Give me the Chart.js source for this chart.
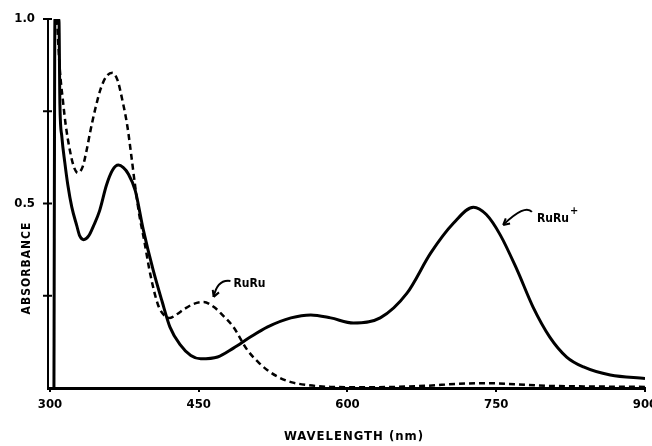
<!DOCTYPE html>
<html>
<head>
<meta charset="utf-8">
<script src="https://cdn.jsdelivr.net/npm/chart.js@4.4.1/dist/chart.umd.min.js"></script>
<style>
  html, body { margin: 0; padding: 0; background: #fff; }
  #wrap { width: 652px; height: 446px; position: relative; }
</style>
</head>
<body>
<div id="wrap"><canvas id="specChart" width="652" height="446"></canvas></div>
<script>
// RuRu+ (solid) trace
var ruruPlusNm = [304, 305, 309, 310, 312, 315, 318, 322, 327, 330, 334, 339, 344, 350, 357, 363, 369, 374, 379, 386, 394, 404, 413, 421, 431, 442, 452, 469, 485, 502, 519, 543, 563, 583, 606, 633, 660, 684, 707, 727, 740, 754, 771, 787, 804, 821, 838, 865, 900];
var ruruPlusAbs = [0, 1.0, 1.0, 0.77, 0.68, 0.61, 0.55, 0.49, 0.44, 0.412, 0.402, 0.412, 0.44, 0.48, 0.55, 0.59, 0.604, 0.597, 0.58, 0.535, 0.43, 0.32, 0.235, 0.165, 0.118, 0.088, 0.079, 0.084, 0.108, 0.138, 0.165, 0.19, 0.198, 0.19, 0.176, 0.19, 0.257, 0.366, 0.447, 0.49, 0.47, 0.415, 0.32, 0.22, 0.138, 0.084, 0.057, 0.035, 0.026];

// RuRu (dashed) trace
var ruruNm = [307, 310, 313, 316, 320, 324, 328, 333, 337, 341, 346, 351, 357, 363, 368, 373, 378, 382, 386, 390, 395, 401, 409, 416, 421, 428, 436, 445, 455, 465, 475, 485, 499, 510, 519, 530, 543, 560, 583, 620, 680, 710, 740, 770, 800, 850, 900];
var ruruAbs = [1.0, 0.86, 0.78, 0.71, 0.645, 0.6, 0.583, 0.6, 0.645, 0.7, 0.76, 0.81, 0.845, 0.854, 0.835, 0.78, 0.71, 0.63, 0.545, 0.47, 0.4, 0.31, 0.225, 0.195, 0.19, 0.2, 0.215, 0.228, 0.233, 0.22, 0.195, 0.165, 0.103, 0.07, 0.049, 0.03, 0.016, 0.008, 0.003, 0.002, 0.006, 0.011, 0.013, 0.01, 0.006, 0.004, 0.003];

var xTicks = [300, 450, 600, 750, 900];
var yTicks = [0, 0.25, 0.5, 0.75, 1.0];
var yLabels = ['', '', '0.5', '', '1.0'];

var labelFont = "'DejaVu Sans Condensed', 'DejaVu Sans', sans-serif";

function toPoints(xs, ys) {
    return xs.map(function (x, i) { return { x: x, y: ys[i] }; });
}

function drawHead(ctx, x, y, ang) {
    var s = 7;
    ctx.beginPath();
    ctx.moveTo(x, y);
    ctx.lineTo(x - s * Math.cos(ang - 0.5), y - s * Math.sin(ang - 0.5));
    ctx.moveTo(x, y);
    ctx.lineTo(x - s * Math.cos(ang + 0.5), y - s * Math.sin(ang + 0.5));
    ctx.stroke();
}

// axis titles and curve labels with their little arrows
var notesPlugin = {
    id: 'notes',
    afterDraw: function (chart) {
        var ctx = chart.ctx;
        var xs = chart.scales.x, ys = chart.scales.y;
        var px = function (v) { return xs.getPixelForValue(v); };
        var py = function (v) { return ys.getPixelForValue(v); };
        ctx.save();
        ctx.fillStyle = '#000';
        ctx.strokeStyle = '#000';

        // x title
        ctx.font = 'bold 13px ' + labelFont;
        ctx.letterSpacing = '1px';
        ctx.textAlign = 'center';
        ctx.textBaseline = 'middle';
        ctx.fillText('WAVELENGTH (nm)', 354, 437);

        // y title
        ctx.save();
        ctx.translate(27, 268);
        ctx.rotate(-Math.PI / 2);
        ctx.font = 'bold 12px ' + labelFont;
        ctx.fillText('ABSORBANCE', 0, 0);
        ctx.restore();
        ctx.letterSpacing = '0px';

        // RuRu label
        ctx.font = 'bold 12px ' + labelFont;
        ctx.textAlign = 'left';
        ctx.textBaseline = 'alphabetic';
        var tx = px(485), ty = py(0.274);
        ctx.fillText('RuRu', tx, ty);
        ctx.lineWidth = 2;
        ctx.beginPath();
        ctx.moveTo(tx - 3, ty - 6);
        ctx.quadraticCurveTo(tx - 16, ty - 8, px(465), py(0.247));
        ctx.stroke();
        drawHead(ctx, px(465), py(0.247), Math.PI * 0.62);

        // RuRu+ label
        var sx = px(791), sy = py(0.45);
        ctx.fillText('RuRu', sx, sy);
        var w = ctx.measureText('RuRu').width;
        ctx.font = 'bold 11px ' + labelFont;
        ctx.fillText('+', sx + w + 1, sy - 8);
        ctx.beginPath();
        ctx.moveTo(sx - 5, sy - 10);
        ctx.quadraticCurveTo(sx - 12, sy - 18, px(757), py(0.442));
        ctx.stroke();
        drawHead(ctx, px(757), py(0.442), Math.PI * 0.78);

        // cross ticks on the y axis
        ctx.lineWidth = 2;
        yTicks.forEach(function (v) {
            if (v === 0) return;
            var y = py(v), x = chart.chartArea.left;
            ctx.beginPath();
            ctx.moveTo(x - 5, y);
            ctx.lineTo(x + 4, y);
            ctx.stroke();
        });
        ctx.restore();
    }
};

var ctx = document.getElementById('specChart').getContext('2d');

var myChart = new Chart(ctx, {
    type: 'line',
    data: {
        datasets: [{
            label: 'RuRu+',
            data: toPoints(ruruPlusNm, ruruPlusAbs),
            borderColor: '#000',
            borderWidth: 3,
            pointRadius: 0,
            fill: false,
            cubicInterpolationMode: 'monotone'
        }, {
            label: 'RuRu',
            data: toPoints(ruruNm, ruruAbs),
            borderColor: '#000',
            borderWidth: 2.5,
            borderDash: [6, 4],
            pointRadius: 0,
            fill: false,
            cubicInterpolationMode: 'monotone'
        }]
    },
    options: {
        responsive: false,
        animation: false,
        layout: {
            padding: { left: 0, right: 7, top: 19, bottom: 0 }
        },
        plugins: {
            legend: { display: false },
            tooltip: { enabled: false }
        },
        scales: {
            x: {
                type: 'linear',
                min: 298,
                max: 900,
                afterBuildTicks: function (scale) {
                    scale.ticks = xTicks.map(function (v) { return { value: v }; });
                },
                afterFit: function (scale) {
                    scale.height = 58;
                    scale.paddingLeft = 0;
                    scale.paddingRight = 0;
                },
                grid: {
                    display: true,
                    drawOnChartArea: false,
                    drawTicks: true,
                    tickLength: 4,
                    color: '#000',
                    lineWidth: 2
                },
                border: { display: true, color: '#000', width: 3 },
                ticks: {
                    color: '#000',
                    padding: 5,
                    maxRotation: 0,
                    autoSkip: false,
                    font: { family: labelFont, size: 13, weight: 'bold' }
                }
            },
            y: {
                min: 0,
                max: 1.0,
                afterBuildTicks: function (scale) {
                    scale.ticks = yTicks.map(function (v) { return { value: v }; });
                },
                afterFit: function (scale) {
                    scale.width = 48;
                    scale.paddingTop = 0;
                    scale.paddingBottom = 0;
                },
                grid: { display: false, drawOnChartArea: false },
                border: { display: true, color: '#000', width: 2 },
                ticks: {
                    color: '#000',
                    padding: 5,
                    font: { family: labelFont, size: 13, weight: 'bold' },
                    callback: function (value, index) { return yLabels[index]; }
                }
            }
        }
    },
    plugins: [notesPlugin]
});
</script>
</body>
</html>
